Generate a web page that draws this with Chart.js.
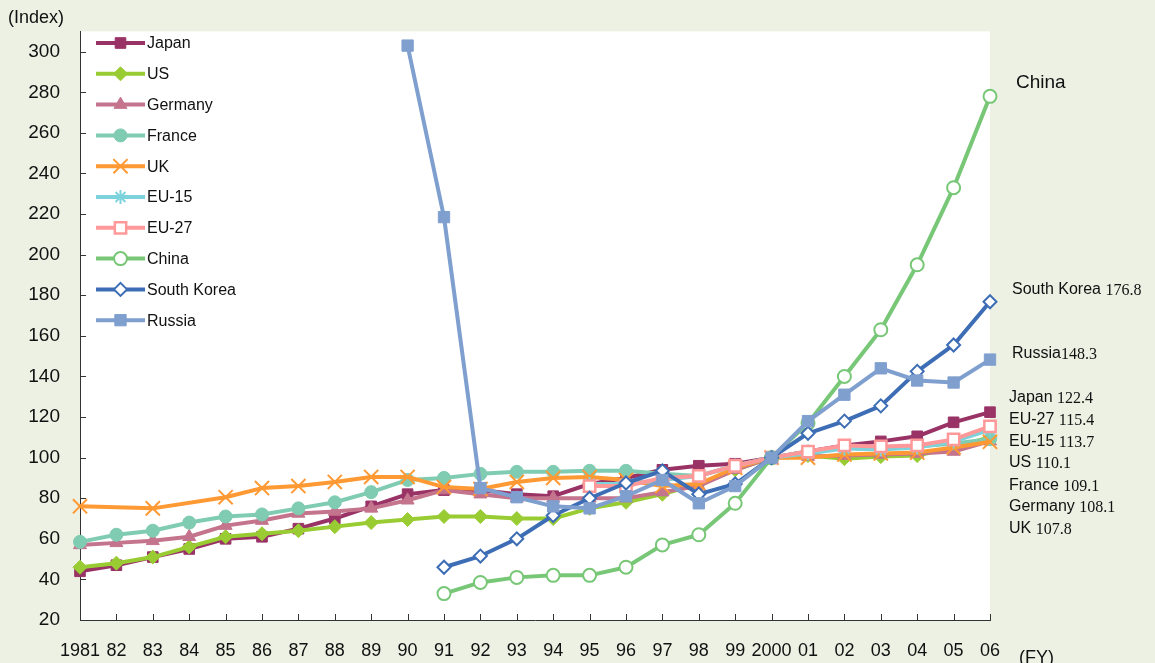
<!DOCTYPE html>
<html>
<head>
<meta charset="utf-8">
<script src="https://cdn.jsdelivr.net/npm/chart.js@4.4.1/dist/chart.umd.min.js"></script>
<style>
  html, body { margin: 0; padding: 0; background: #ECF1E3; }
  canvas { display: block; }
</style>
</head>
<body>
<canvas id="chart" width="1155" height="663"></canvas>
<script>
// Fiscal years on the category axis
const years = ['1981','82','83','84','85','86','87','88','89','90','91','92','93','94','95',
               '96','97','98','99','2000','01','02','03','04','05','06'];

// Index values (2000 = 100)
const japan   = [44, 47, 51, 55, 60, 61, 65, 70, 76, 82, 84, 84, 82, 81, 87, 90, 94, 96, 97, 100, 103, 106, 108, 110.5, 117.4, 122.4];
const us      = [46, 48, 51, 56, 61, 62.5, 64, 66, 68, 69.5, 71, 71, 70, 70, 75, 78, 82, 87, 94, 100, 101, 99.5, 100.5, 101, 105, 110.1];
const germany = [57, 58, 59, 61, 66.5, 69, 72.5, 73.5, 75, 79, 84, 82, 80, 80, 80, 80, 83, 86, 94, 100, 100.5, 101, 101.5, 102, 103, 108.1];
const france  = [58.5, 62, 64, 68, 71, 72, 75, 78, 83, 89, 90, 92, 93, 93, 93.5, 93.5, 92, 91, 96, 100, 103, 105, 105, 105.5, 107, 109.1];
const uk      = [76, null, 75, null, 80.5, 85, 86, 88, 90.5, 90.5, 85.5, 84.5, 88, 90, 90.5, 89, 86, 87, 95, 100, 100, 101.5, 102, 102.5, 105, 107.8];
const eu15    = [null, null, null, null, null, null, null, null, null, null, null, null, null, null,
                 87, 87, 89, 91, 96, 100, 102, 104.5, 104, 105, 108, 113.7];
const eu27    = [null, null, null, null, null, null, null, null, null, null, null, null, null, null,
                 86, 86, 90, 91, 96, 100, 103, 106, 105.5, 106, 109, 115.4];
const china   = [null, null, null, null, null, null, null, null, null, null,
                 33, 38.5, 41, 42, 42, 46, 57, 62, 77.5, 100, 117, 140, 163, 195, 233, 278];
const korea   = [null, null, null, null, null, null, null, null, null, null,
                 46, 51.5, 60, 71.5, 80, 87.5, 93.5, 82, 87, 100, 112, 118, 125.5, 142.5, 155.5, 176.8];
const russia  = [null, null, null, null, null, null, null, null, null,
                 303, 218.5, 85, 80.5, 76, 75, 81, 89, 77.5, 86, 100, 118, 131, 144, 138, 137, 148.3];

// Y axis tick values
const yTicks = [20, 40, 60, 80, 100, 120, 140, 160, 180, 200, 220, 240, 260, 280, 300];

const SANS = '"Liberation Sans", Arial, sans-serif';
const SERIF = '"Liberation Serif", "Times New Roman", serif';

function series(label, data, color, style, radius, opts) {
  opts = opts || {};
  return {
    label: label,
    data: data,
    borderColor: color,
    backgroundColor: color,
    borderWidth: 4,
    tension: 0,
    spanGaps: true,
    clip: false,
    pointStyle: style,
    pointRadius: radius,
    pointHoverRadius: radius,
    pointBackgroundColor: opts.fill || color,
    pointBorderColor: color,
    pointBorderWidth: opts.bw !== undefined ? opts.bw : 1,
    order: opts.order
  };
}

const datasets = [
  series('Japan', japan, '#993366', 'rect', 7.5, { order: 10 }),
  series('US', us, '#99CC33', 'rectRot', 7, { order: 9 }),
  series('Germany', germany, '#C4748D', 'triangle', 7.5, { order: 8 }),
  series('France', france, '#80CCB3', 'circle', 6.5, { order: 7 }),
  series('UK', uk, '#FF9933', 'crossRot', 10, { order: 6, bw: 2 }),
  series('EU-15', eu15, '#7DD3DB', 'star', 7, { order: 5, bw: 2 }),
  series('EU-27', eu27, '#FF9999', 'rect', 8, { order: 4, fill: '#FFFFFF', bw: 2.5 }),
  series('China', china, '#77C777', 'circle', 6.5, { order: 3, fill: '#FFFFFF', bw: 2 }),
  series('South Korea', korea, '#3D6DB5', 'rectRot', 6.5, { order: 2, fill: '#FFFFFF', bw: 2 }),
  series('Russia', russia, '#7F9FCF', 'rect', 8, { order: 1 })
];

// White plotting area on the tinted page
const plotBackground = {
  id: 'plotBackground',
  beforeDraw(chart) {
    const { ctx, chartArea: a } = chart;
    ctx.save();
    ctx.fillStyle = '#FFFFFF';
    ctx.fillRect(a.left, a.top, a.right - a.left, a.bottom - a.top);
    ctx.restore();
  }
};

// Short tick marks pointing into the plot
const innerTicks = {
  id: 'innerTicks',
  beforeDatasetsDraw(chart) {
    const { ctx, chartArea: a, scales } = chart;
    ctx.save();
    ctx.strokeStyle = '#333333';
    ctx.lineWidth = 1;
    ctx.beginPath();
    scales.x.ticks.forEach((t, i) => {
      const px = Math.round(scales.x.getPixelForTick(i)) + 0.5;
      ctx.moveTo(px, a.bottom);
      ctx.lineTo(px, a.bottom - 6);
    });
    scales.y.ticks.forEach((t, i) => {
      const py = Math.round(scales.y.getPixelForTick(i)) + 0.5;
      ctx.moveTo(a.left, py);
      ctx.lineTo(a.left + 6, py);
    });
    ctx.stroke();
    ctx.restore();
  }
};

// Vertical legend in the upper-left corner of the plot
const seriesLegend = {
  id: 'seriesLegend',
  afterDatasetsDraw(chart) {
    const { ctx } = chart;
    const x0 = 96, x1 = 145, top = 43, step = 30.8;
    ctx.save();
    chart.data.datasets.forEach((ds, i) => {
      const y = top + i * step;
      ctx.strokeStyle = ds.borderColor;
      ctx.lineWidth = 4;
      ctx.beginPath();
      ctx.moveTo(x0, y);
      ctx.lineTo(x1, y);
      ctx.stroke();
      ctx.fillStyle = ds.pointBackgroundColor;
      ctx.strokeStyle = ds.pointBorderColor;
      ctx.lineWidth = ds.pointBorderWidth;
      Chart.helpers.drawPoint(ctx, {
        pointStyle: ds.pointStyle,
        radius: ds.pointRadius,
        rotation: 0,
        borderWidth: ds.pointBorderWidth
      }, (x0 + x1) / 2, y);
      ctx.fillStyle = '#111111';
      ctx.font = '16px ' + SANS;
      ctx.textAlign = 'left';
      ctx.textBaseline = 'middle';
      ctx.fillText(ds.label, x1 + 2, y + 1);
    });
    ctx.restore();
  }
};

// Axis captions and the latest-year values at the right
const captions = {
  id: 'captions',
  afterDraw(chart) {
    const { ctx } = chart;
    ctx.save();
    ctx.fillStyle = '#111111';
    ctx.textBaseline = 'middle';
    ctx.textAlign = 'left';
    ctx.font = '18px ' + SANS;
    ctx.fillText('(Index)', 8, 18);
    ctx.fillText('(FY)', 1019, 658);
    ctx.font = '19px ' + SANS;
    ctx.fillText('China', 1016, 83);

    const last = arr => arr[arr.length - 1].toFixed(1);
    const notes = [
      { name: 'South Korea', sep: ' ', data: korea, x: 1012, y: 290 },
      { name: 'Russia', sep: '', data: russia, x: 1012, y: 354 },
      { name: 'Japan', sep: ' ', data: japan, x: 1009, y: 398 },
      { name: 'EU-27', sep: ' ', data: eu27, x: 1009, y: 420 },
      { name: 'EU-15', sep: ' ', data: eu15, x: 1009, y: 442 },
      { name: 'US', sep: ' ', data: us, x: 1009, y: 463 },
      { name: 'France', sep: ' ', data: france, x: 1009, y: 486 },
      { name: 'Germany', sep: ' ', data: germany, x: 1009, y: 507 },
      { name: 'UK', sep: ' ', data: uk, x: 1009, y: 529 }
    ];
    notes.forEach(n => {
      ctx.font = '16px ' + SANS;
      const head = n.name + n.sep;
      ctx.fillText(head, n.x, n.y);
      const w = ctx.measureText(head).width;
      ctx.font = '16px ' + SERIF;
      ctx.fillText(last(n.data), n.x + w, n.y + 1);
    });
    ctx.restore();
  }
};

new Chart(document.getElementById('chart'), {
  type: 'line',
  data: { labels: years, datasets: datasets },
  plugins: [plotBackground, innerTicks, seriesLegend, captions],
  options: {
    responsive: false,
    animation: false,
    devicePixelRatio: 1,
    layout: { padding: { top: 30, right: 165, left: 0, bottom: 0 } },
    plugins: {
      legend: { display: false },
      title: { display: false },
      tooltip: { enabled: false }
    },
    elements: { line: { borderJoinStyle: 'round', borderCapStyle: 'round' } },
    scales: {
      x: {
        type: 'category',
        offset: false,
        grid: { display: false, drawTicks: false },
        border: { display: true, color: '#333333', width: 1 },
        ticks: {
          autoSkip: false,
          maxRotation: 0,
          minRotation: 0,
          padding: 20,
          color: '#111111',
          font: { family: SANS, size: 18 }
        },
        afterFit: s => { s.height = 43; }
      },
      y: {
        type: 'linear',
        min: 20,
        max: 310,
        grid: { display: false, drawTicks: false },
        border: { display: true, color: '#333333', width: 1 },
        afterBuildTicks: s => { s.ticks = yTicks.map(v => ({ value: v })); },
        ticks: {
          padding: 20,
          color: '#111111',
          font: { family: SANS, size: 19 }
        },
        afterFit: s => { s.width = 80; }
      }
    }
  }
});
</script>
</body>
</html>
